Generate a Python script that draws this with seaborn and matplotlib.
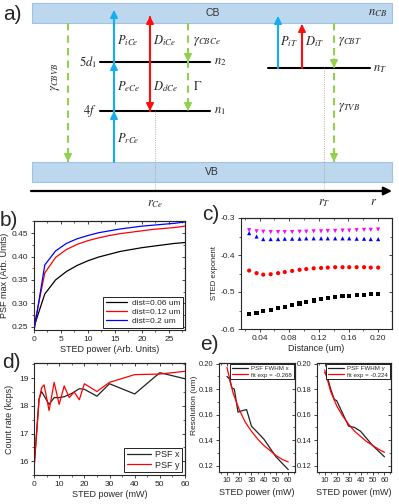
import numpy as np
import pandas as pd
import matplotlib
matplotlib.use("Agg")
import matplotlib.pyplot as plt
from matplotlib.patches import Rectangle
from matplotlib.ticker import AutoMinorLocator, MultipleLocator
import seaborn as sns

# ---------------- data ----------------
# b) PSF max vs STED power
b_power = [0, 2, 4, 6, 8, 10, 12, 14, 16, 18, 20, 22, 24, 26, 28]
b_dist006 = [0.250, 0.320, 0.350, 0.368, 0.381, 0.391, 0.399, 0.405, 0.411, 0.415, 0.419, 0.422, 0.425, 0.428, 0.430]
b_dist012 = [0.250, 0.365, 0.398, 0.415, 0.426, 0.434, 0.440, 0.445, 0.449, 0.452, 0.455, 0.458, 0.460, 0.462, 0.465]
b_dist020 = [0.240, 0.382, 0.412, 0.428, 0.438, 0.445, 0.451, 0.455, 0.459, 0.462, 0.465, 0.467, 0.469, 0.471, 0.474]
b_labels = ["dist=0.06 um", "dist=0.12 um", "dist=0.2 um"]

# c) STED exponent vs distance
c_dist = [0.026, 0.036, 0.045, 0.055, 0.065, 0.074, 0.084, 0.094, 0.103, 0.113,
          0.123, 0.132, 0.142, 0.152, 0.161, 0.171, 0.181, 0.190, 0.200]
c_black = [-0.560, -0.557, -0.552, -0.549, -0.544, -0.540, -0.535, -0.531, -0.527, -0.523,
           -0.520, -0.516, -0.513, -0.511, -0.510, -0.508, -0.507, -0.506, -0.506]
c_red = [-0.442, -0.449, -0.453, -0.452, -0.449, -0.446, -0.443, -0.440, -0.438, -0.436,
         -0.435, -0.434, -0.433, -0.433, -0.433, -0.433, -0.433, -0.434, -0.434]
c_blue = [-0.341, -0.350, -0.357, -0.357, -0.357, -0.356, -0.356, -0.356, -0.355, -0.355,
          -0.355, -0.355, -0.355, -0.355, -0.355, -0.356, -0.356, -0.357, -0.357]
c_magenta = [-0.333, -0.336, -0.337, -0.338, -0.338, -0.338, -0.338, -0.337, -0.337, -0.336,
             -0.336, -0.335, -0.335, -0.334, -0.334, -0.333, -0.332, -0.332, -0.331]

# d) count rate vs STED power
d_power_x = [0, 2, 3, 6, 8, 10, 12, 15, 18, 20, 25, 30, 40, 50, 60]
d_psf_x = [15.75, 18.25, 18.52, 18.05, 18.30, 18.30, 18.33, 18.45, 18.62, 18.60, 18.35, 18.80, 18.43, 19.20, 18.98]
d_power_y = [0, 2, 3, 4, 6, 8, 10, 12, 14, 16, 18, 20, 25, 30, 40, 50, 60]
d_psf_y = [15.70, 18.20, 18.65, 18.76, 17.83, 18.85, 18.05, 18.72, 18.30, 18.50, 18.22, 18.80, 18.52, 18.85, 19.13, 19.15, 19.25]

# e) resolution vs STED power
e_power_x = [10, 12, 14, 16, 19, 22, 26, 30, 40, 50, 60]
e_fwhm_x = [0.190, 0.188, 0.181, 0.180, 0.162, 0.163, 0.164, 0.151, 0.141, 0.127, 0.117]
e_fit_power = [10, 15, 20, 25, 30, 35, 40, 45, 50, 55, 60]
e_fit_x = [0.197, 0.177, 0.164, 0.154, 0.147, 0.141, 0.136, 0.132, 0.128, 0.125, 0.123]
e_power_y = [10, 12, 15, 18, 20, 25, 30, 35, 40, 50, 60]
e_fwhm_y = [0.193, 0.190, 0.180, 0.172, 0.171, 0.161, 0.151, 0.150, 0.147, 0.136, 0.127]
e_fit_y = [0.195, 0.178, 0.167, 0.159, 0.1525, 0.147, 0.143, 0.139, 0.136, 0.133, 0.1305]

# ---------------- style ----------------
sns.set_theme(style="ticks")
plt.rcParams["font.family"] = ["Liberation Sans", "DejaVu Sans"]
plt.rcParams["mathtext.fontset"] = "stix"
plt.rcParams["axes.unicode_minus"] = False
plt.rcParams["legend.fancybox"] = False
plt.rcParams["axes.linewidth"] = 0.8

W, H = 399, 504
fig = plt.figure(figsize=(W / 100, H / 100), dpi=100)


def box(l, r, t, b):
    return [l / W, 1 - b / H, (r - l) / W, (b - t) / H]


def origin_box(ax, xmaj, ymaj, size=6):
    ax.xaxis.set_major_locator(MultipleLocator(xmaj))
    ax.yaxis.set_major_locator(MultipleLocator(ymaj))
    ax.xaxis.set_minor_locator(AutoMinorLocator(2))
    ax.yaxis.set_minor_locator(AutoMinorLocator(2))
    ax.tick_params(which="major", direction="out", length=2.5, width=0.6, labelsize=size, pad=1.5)
    ax.tick_params(which="minor", direction="out", length=1.5, width=0.5)
    top = ax.secondary_xaxis("top")
    top.xaxis.set_major_locator(MultipleLocator(xmaj))
    top.xaxis.set_minor_locator(AutoMinorLocator(2))
    top.tick_params(which="major", direction="in", length=2.5, width=0.6, labeltop=False)
    top.tick_params(which="minor", direction="in", length=1.5, width=0.5)
    right = ax.secondary_yaxis("right")
    right.yaxis.set_major_locator(MultipleLocator(ymaj))
    right.yaxis.set_minor_locator(AutoMinorLocator(2))
    right.tick_params(which="major", direction="in", length=2.5, width=0.6, labelright=False)
    right.tick_params(which="minor", direction="in", length=1.5, width=0.5)


def frame_legend(ax, handles, labels, loc, size, pad=0.3):
    leg = ax.legend(handles, labels, loc=loc, fontsize=size, frameon=True,
                    handlelength=2.6, borderpad=0.3, labelspacing=0.15,
                    handletextpad=0.5, borderaxespad=pad)
    leg.get_frame().set_edgecolor("black")
    leg.get_frame().set_linewidth(0.6)
    leg.get_frame().set_alpha(1)
    return leg


# ---------------- a) diagram ----------------
BLUE, RED, GREEN = "#12aef0", "#ff0d0d", "#92d050"
BAND, BAND_EDGE = "#bdd7ee", "#9dc3e6"

ax0 = fig.add_axes([0, 1 - 215 / H, 1, 215 / H])
ax0.set_xlim(0, W)
ax0.set_ylim(215, 0)
ax0.axis("off")

band_x = (32, 392)
cb_y = (3, 23)
vb_y = (162, 182)
lvl_5d, lvl_4f, lvl_t = 62, 111, 68
axis_y = 191

for y0, y1 in (cb_y, vb_y):
    ax0.add_patch(Rectangle((band_x[0], y0), band_x[1] - band_x[0], y1 - y0,
                            fc=BAND, ec=BAND_EDGE, lw=0.8, zorder=0))
ax0.text(205, 13, "CB", fontsize=7.5, color="#333333", va="center")
ax0.text(205, 172, "VB", fontsize=7.5, color="#333333", va="center")
ax0.text(387, 13, r"$n_{CB}$", fontsize=9, ha="right", va="center")

# energy levels
for y in (lvl_5d, lvl_4f):
    ax0.plot([100, 210], [y, y], color="black", lw=1.5)
ax0.plot([268, 370], [lvl_t, lvl_t], color="black", lw=1.5)
ax0.text(97, lvl_5d, r"$5d_1$", fontsize=9, ha="right", va="center")
ax0.text(97, lvl_4f, r"$4f$", fontsize=9, ha="right", va="center")
ax0.text(214, lvl_5d, r"$n_2$", fontsize=9, va="center")
ax0.text(214, lvl_4f, r"$n_1$", fontsize=9, va="center")
ax0.text(373, lvl_t + 1, r"$n_T$", fontsize=9, va="center")

# dotted guides and r axis
ax0.plot([155, 155], [lvl_4f, axis_y], color="#999999", lw=0.6, ls=":")
ax0.plot([324, 324], [lvl_t, axis_y], color="#999999", lw=0.6, ls=":")
ax0.annotate("", xy=(392, axis_y), xytext=(31, axis_y),
             arrowprops=dict(arrowstyle="-|>", color="black", lw=1.6,
                             mutation_scale=12, shrinkA=0, shrinkB=0))
ax0.text(155, 204, r"$r_{Ce}$", fontsize=9, ha="center", va="center")
ax0.text(324, 203, r"$r_T$", fontsize=9, ha="center", va="center")
ax0.text(374, 202, r"$r$", fontsize=9, ha="center", va="center")


def head(x, tip, color, up=True):
    tail = tip + 9 if up else tip - 9
    ax0.annotate("", xy=(x, tip), xytext=(x, tail),
                 arrowprops=dict(arrowstyle="-|>", color=color, lw=1.3,
                                 mutation_scale=11, shrinkA=0, shrinkB=0))


def solid(x, y0, y1, color):
    ax0.plot([x, x], [y0, y1], color=color, lw=1.5)


def dashed(x, y0, y1):
    ax0.plot([x, x], [y0, y1], color=GREEN, lw=1.5, dashes=(3.5, 2.5))


# left (Ce) transitions
solid(114, vb_y[0], 12, BLUE)
for tip in (lvl_4f, lvl_5d, 10):
    head(114, tip, BLUE)
solid(150, 17, lvl_4f, RED)
head(150, 16, RED)
head(150, lvl_4f, RED, up=False)
dashed(188, cb_y[1], lvl_4f)
head(188, lvl_5d, GREEN, up=False)
head(188, lvl_4f, GREEN, up=False)
dashed(68, cb_y[1], vb_y[0])
head(68, vb_y[0], GREEN, up=False)

# right (trap) transitions
solid(278, lvl_t, 18, BLUE)
head(278, 16, BLUE)
solid(302, lvl_t, 26, RED)
head(302, 24, RED)
dashed(334, cb_y[1], vb_y[0])
head(334, lvl_t, GREEN, up=False)
head(334, vb_y[0], GREEN, up=False)

# transition labels
for x, y, s in [(117, 41, r"$P_{iCe}$"), (153, 41, r"$D_{iCe}$"), (193, 42, r"$\gamma_{CBCe}$"),
                (117, 87, r"$P_{eCe}$"), (153, 87, r"$D_{dCe}$"), (193, 87, r"$\Gamma$"),
                (117, 139, r"$P_{rCe}$"), (280, 42, r"$P_{iT}$"), (305, 42, r"$D_{iT}$"),
                (338, 42, r"$\gamma_{CBT}$"), (338, 107, r"$\gamma_{TVB}$")]:
    ax0.text(x, y, s, fontsize=9, va="center")
ax0.text(55, 77, r"$\gamma_{CBVB}$", fontsize=9, rotation=90, ha="center", va="center")

# ---------------- b) ----------------
ax_b = fig.add_axes(box(34, 185, 221, 330))
df_b = pd.DataFrame({
    "power": b_power * 3,
    "psf": b_dist006 + b_dist012 + b_dist020,
    "dist": [b_labels[0]] * len(b_power) + [b_labels[1]] * len(b_power) + [b_labels[2]] * len(b_power),
})
sns.lineplot(data=df_b, x="power", y="psf", hue="dist", palette=["black", "red", "blue"],
             estimator=None, lw=0.9, legend=False, ax=ax_b)
ax_b.set_xlim(0, 28)
ax_b.set_ylim(0.243, 0.476)
origin_box(ax_b, 5, 0.05)
ax_b.set_xlabel("STED power (Arb. Units)", fontsize=6.5, labelpad=2)
ax_b.set_ylabel("PSF max (Arb. Units)", fontsize=6.5, labelpad=2)
frame_legend(ax_b, ax_b.lines[:3], b_labels, "lower right", 6)

# ---------------- c) ----------------
ax_c = fig.add_axes(box(241, 391.5, 218, 329))
c_names = ["k", "r", "b", "m"]
df_c = pd.DataFrame({
    "dist": c_dist * 4,
    "exponent": c_black + c_red + c_blue + c_magenta,
    "set": sum([[n] * len(c_dist) for n in c_names], []),
})
sns.scatterplot(data=df_c, x="dist", y="exponent", hue="set", style="set",
                palette={"k": "black", "r": "red", "b": "blue", "m": "magenta"},
                markers={"k": "s", "r": "o", "b": "^", "m": "v"},
                s=9, linewidth=0, legend=False, ax=ax_c)
ax_c.set_xlim(0.015, 0.218)
ax_c.set_ylim(-0.6, -0.3)
origin_box(ax_c, 0.04, 0.1)
ax_c.set_xlabel("Distance (um)", fontsize=6.5, labelpad=2)
ax_c.set_ylabel("STED exponent", fontsize=5.5, labelpad=2)

# ---------------- d) ----------------
ax_d = fig.add_axes(box(34, 185, 363, 475))
sns.lineplot(x=d_power_x, y=d_psf_x, color="#222222", lw=0.9, estimator=None, ax=ax_d)
sns.lineplot(x=d_power_y, y=d_psf_y, color="red", lw=0.9, estimator=None, ax=ax_d)
ax_d.set_xlim(0, 60)
ax_d.set_ylim(15.5, 19.55)
origin_box(ax_d, 10, 1)
ax_d.set_xlabel("STED power (mW)", fontsize=6.5, labelpad=2)
ax_d.set_ylabel("Count rate (kcps)", fontsize=6.5, labelpad=4)
frame_legend(ax_d, ax_d.lines[:2], ["PSF x", "PSF y"], "lower right", 6.5)

# ---------------- e) ----------------
ax_e1 = fig.add_axes(box(219, 295, 363, 471.5))
ax_e2 = fig.add_axes(box(317, 391, 363, 471.5))
for ax, px, py, fy, lab, flab in [
        (ax_e1, e_power_x, e_fwhm_x, e_fit_x, "PSF FWHM x", "fit exp = -0.268"),
        (ax_e2, e_power_y, e_fwhm_y, e_fit_y, "PSF FWHM y", "fit exp = -0.224")]:
    sns.lineplot(x=px, y=py, color="#222222", lw=0.9, estimator=None, ax=ax)
    sns.lineplot(x=e_fit_power, y=fy, color="red", lw=0.9, estimator=None, ax=ax)
    ax.set_xlim(3.5, 65.5)
    ax.set_ylim(0.1155, 0.2005)
    origin_box(ax, 10, 0.02, size=5.5)
    ax.set_xlabel("STED power (mW)", fontsize=6.5, labelpad=3)
    frame_legend(ax, ax.lines[:2], [lab, flab], "upper right", 4.4, pad=0.2)
fig.text(194 / W, 1 - 405 / H, "Resolution (um)", rotation=90, fontsize=6,
         ha="center", va="center")

# ---------------- panel letters ----------------
for x, y, s in [(3, 14, "a)"), (0, 221, "b)"), (202, 215, "c)"), (2, 362, "d)"), (200, 344, "e)")]:
    fig.text(x / W, 1 - y / H, s, fontsize=15, va="center")

fig.savefig("out.png", dpi=100)
